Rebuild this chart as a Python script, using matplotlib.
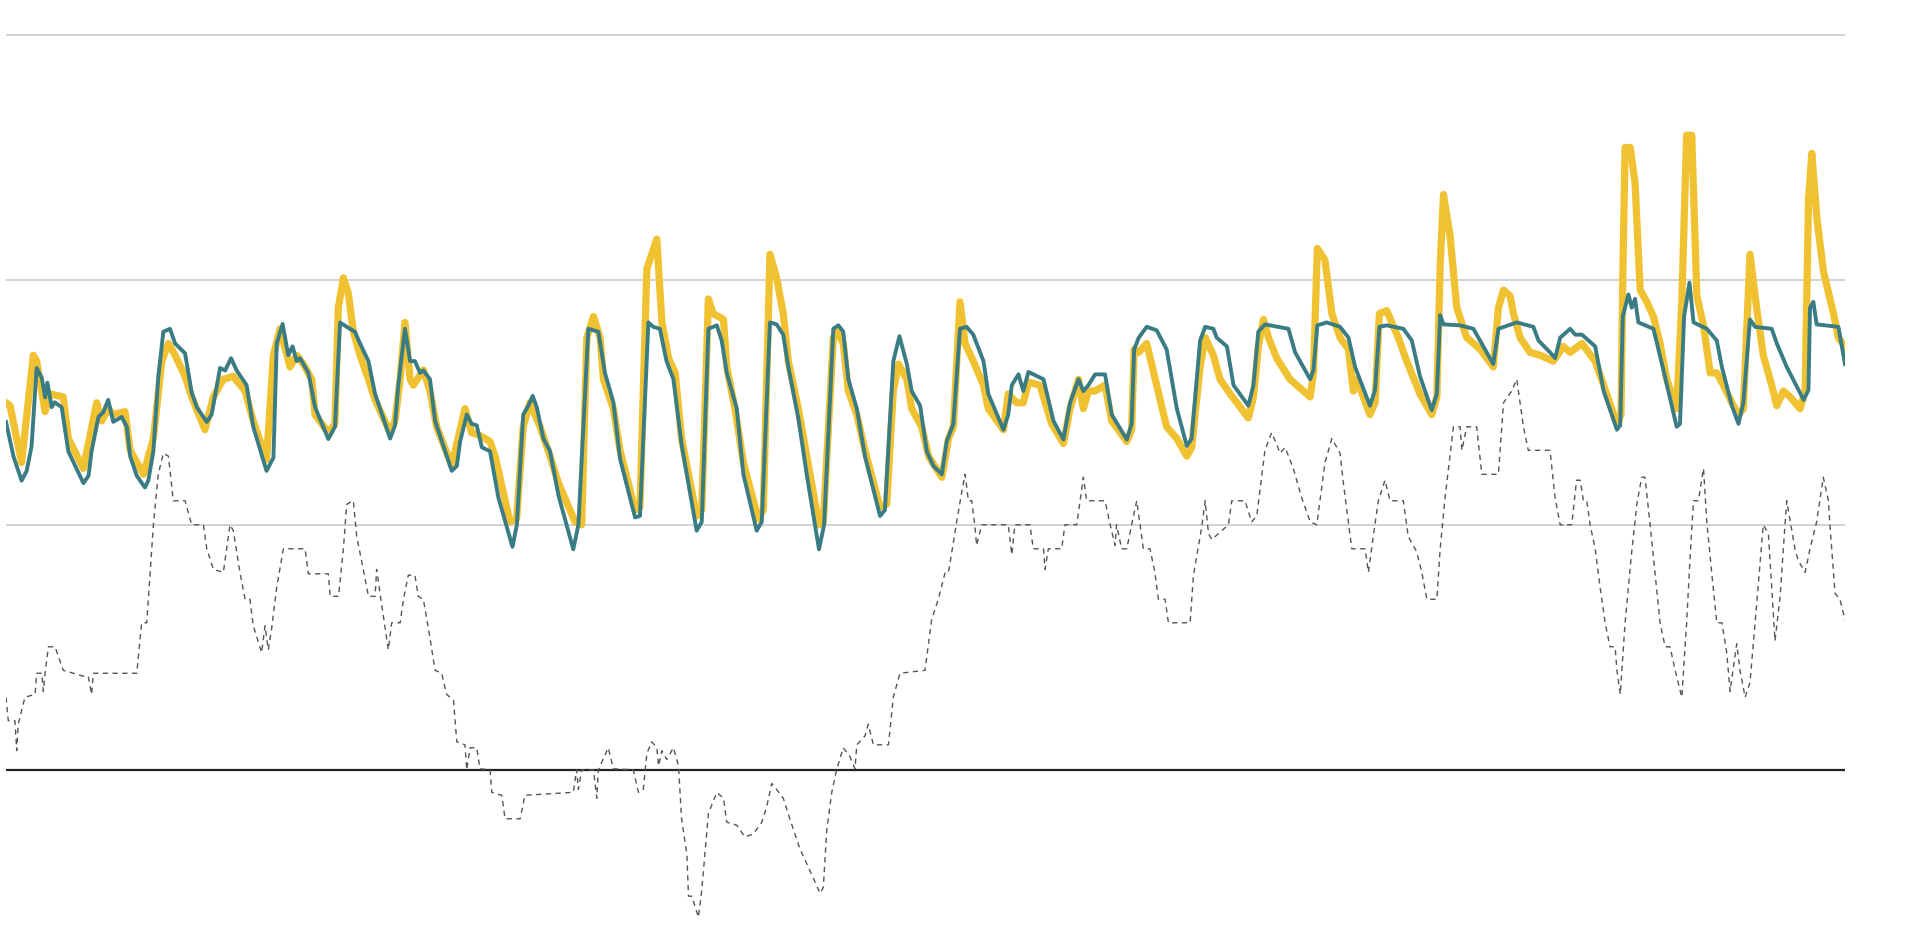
import matplotlib
matplotlib.use("Agg")
import matplotlib.pyplot as plt

# hourly series over 30 days (hour, value)
teal = [(0, 71), (2.9, 64), (6.1, 59), (8.1, 61), (10, 66), (12, 82), (14, 80), (15.3, 76), (16.2, 79),
        (17.9, 74), (19, 75), (21.8, 74), (24.4, 65), (30.3, 58.5), (32.3, 60), (33.5, 65), (36.2, 72),
        (38.1, 73), (40, 75.5), (42, 71), (45.3, 72), (47.3, 70), (48.6, 64), (51.2, 60), (54.4, 57.6),
        (55.7, 59), (57.7, 65), (59.6, 80), (61.6, 89.4), (64.2, 90), (66.2, 87), (70.1, 85), (72.7, 77),
        (74.7, 74), (78.6, 71), (80.5, 72.5), (83.8, 82), (85.8, 81.5), (88.1, 84), (90.3, 81.5),
        (94.2, 78.5), (96.8, 70), (102, 61), (104.7, 63.7), (106, 87), (108.3, 91), (110.5, 84.6),
        (112.2, 86.4), (113.8, 83.4), (115.1, 84), (118.4, 81), (121, 74), (126.2, 67.5), (128.8, 70),
        (130.8, 91.3), (133.4, 90.4), (136.6, 89.4), (138.6, 87), (141.9, 83.4), (144.5, 76.7),
        (150.4, 67.6), (152.3, 70.3), (153.6, 78.5), (156.2, 90), (158.2, 83.4), (160.1, 83.4),
        (162.1, 81), (163.4, 81.5), (166, 79.7), (168, 71.2), (174.5, 61), (176.5, 62), (177.8, 67),
        (180.4, 72.5), (182.3, 70.6), (184.3, 70.3), (186.3, 65.8), (189.5, 65), (192.8, 55.5),
        (198.3, 45.5), (200, 50), (202.5, 72.5), (204.5, 74.3), (206.2, 76.3), (207.8, 74), (210.4, 67.6),
        (213, 65), (216.3, 56), (222.1, 45), (224.1, 50), (228, 90), (231.9, 89.4), (234.5, 81),
        (237.8, 75), (240.4, 63.5), (246.3, 51.5), (248.2, 51.8), (251.5, 91.3), (253.4, 90.4), (256, 90),
        (258.6, 83.4), (261.3, 79.7), (264.5, 66.4), (270.4, 48.8), (272.4, 50.6), (275, 90),
        (278.3, 90.7), (280.2, 87.6), (282.2, 81), (286.1, 73.7), (288.7, 60.3), (293.9, 48.8),
        (295.9, 50.6), (299.1, 91.3), (301.7, 90.9), (304.3, 88.8), (306.3, 82.2), (310.2, 71.8),
        (313.5, 60.3), (318.3, 45), (320.3, 50), (323.9, 90), (325.9, 90.7), (327.8, 89.4), (329.8, 79.7),
        (333.1, 73.7), (336.3, 64), (342.2, 51.8), (344.1, 53), (347.4, 83.4), (349.8, 88.5),
        (352.7, 82.8), (354.6, 77.3), (357.9, 74.3), (360.5, 65), (363.1, 62), (366.4, 60.3), (368.3, 67),
        (370.9, 70.6), (373.5, 90), (376.1, 90.4), (378.7, 88.8), (382.7, 83.4), (384.6, 76.7),
        (390.5, 69.4), (392.4, 72.5), (393.8, 78.5), (396.4, 80.7), (398.3, 77.3), (400.3, 81.2),
        (406.2, 79.7), (410.1, 71.2), (414, 67.4), (416.6, 74.9), (419.9, 79.7), (421.8, 77.3),
        (423.8, 78.5), (426.4, 80.7), (430.3, 80.7), (432.9, 72.5), (438.8, 67.4), (440.7, 70.6),
        (441.7, 85.8), (443.5, 88.2), (446.6, 90.4), (450.5, 89.7), (454.4, 85.8), (458.4, 73.7),
        (462.3, 66.1), (464.2, 67.6), (467.5, 87.6), (469.5, 90.4), (472.7, 90), (474, 88.2), (478, 86.4),
        (480.6, 78.5), (486.4, 74.3), (488.4, 78.5), (490.3, 89.4), (492.9, 90.9), (502.1, 90),
        (504.7, 85.2), (510.6, 79.7), (511.9, 81.6), (513.4, 90.7), (517.1, 91.3), (522.3, 90.4),
        (525.6, 88.2), (528.2, 82.2), (534, 74.3), (536, 77.5), (537.7, 90.4), (540.6, 90.7), (547.1, 90),
        (550.4, 87.6), (553.6, 80.3), (558.2, 73.4), (560.2, 76.7), (561.5, 92.8), (562.8, 90.9),
        (569.3, 90.7), (574.5, 90), (582.3, 82.8), (584.3, 90), (591.5, 91.3), (598, 90.4), (600, 87.6),
        (604.5, 85.2), (606.5, 84), (608.5, 88.2), (612.4, 90), (614.4, 88.8), (617, 88.8), (622.2, 86.4),
        (625.5, 77.3), (630.7, 69.4), (632, 70.3), (633, 92.5), (635.2, 97), (636.5, 94.3), (637.8, 96.1),
        (639.1, 91.3), (645, 90), (648.9, 81.6), (654.1, 70), (655.4, 70.6), (657, 92.5), (659.1, 99.4),
        (660.7, 91.3), (665.9, 90), (669.8, 87.6), (671.8, 82.2), (675.7, 74.3), (678.3, 70.6),
        (680.2, 74.9), (682.8, 91.9), (684.8, 90.4), (691.3, 90), (693.3, 87), (697.2, 82.2),
        (703.8, 75.5), (705.7, 77.5), (706.3, 94.3), (707.6, 95.5), (708.9, 90.9), (717.4, 90.4),
        (720, 82.8)]

yellow = [(0, 74.9), (1.6, 74.3), (6.1, 62.7), (10.7, 84.6), (12, 83.4), (15.3, 73.1), (17.2, 76.7),
          (22.4, 76.1), (24.4, 67.6), (30.3, 61.5), (35.5, 74.9), (37.5, 71.2), (40, 73.7), (42, 72.5),
          (46.6, 73.1), (48.6, 65.2), (53.8, 60.3), (57.7, 67.6), (61, 83.4), (63.6, 87), (66.2, 84.6),
          (70.1, 80.3), (72.7, 76.1), (77.9, 69.4), (81.2, 76.1), (85.1, 79.7), (89, 80.3), (93.6, 77.3),
          (96.8, 71.2), (102, 63.3), (104.7, 84.6), (107.3, 90), (111.2, 82.2), (113.8, 84.6),
          (116.4, 82.8), (119.7, 79.7), (121, 72.5), (126.2, 68.8), (128.8, 70.6), (130.1, 94.3),
          (132.1, 100.4), (134, 97.3), (136, 89.4), (138.6, 84.6), (141.9, 79.7), (144.5, 75.5),
          (150.4, 68.8), (152.3, 71.2), (154.3, 79.7), (156.2, 91.3), (158.2, 79.7), (159.5, 78.5),
          (163.4, 81.6), (166, 77.3), (168.6, 70), (174.5, 62.1), (179.7, 73.7), (182.3, 68.8),
          (185.6, 68.2), (189.5, 67), (191.5, 64), (197.3, 50.6), (199.9, 51.2), (202.5, 70),
          (205.1, 74.9), (209.1, 70), (213, 64), (216.3, 58.5), (222.8, 50.6), (225.4, 50),
          (227.4, 88.2), (230, 92.5), (232.6, 88.2), (233.9, 79.7), (237.8, 73.7), (240.4, 65.2),
          (246.3, 53), (248.2, 53.6), (250.9, 102.2), (254.8, 108.3), (256.8, 91.3), (259.4, 84),
          (262, 81), (264.5, 67.6), (270.4, 51.8), (272.4, 53), (275, 96.1), (276.9, 93.1),
          (280.9, 91.9), (282.2, 82.2), (285.4, 73.7), (288.7, 62.7), (294.5, 51.2), (296.5, 53),
          (299.1, 105.2), (301.7, 100.4), (304.3, 93.1), (306.3, 83.4), (310.2, 73.7), (313.5, 64),
          (318.3, 50), (320, 50.6), (323.9, 88.2), (325.5, 89.4), (327.8, 87), (329.8, 77.3),
          (333.1, 72.5), (336.3, 65.2), (342.2, 53.6), (344.8, 54.2), (347.4, 77.3), (349.4, 82.8),
          (352.7, 79.7), (354.6, 73.7), (358.5, 70), (361.2, 64), (366.4, 59.7), (369, 67.6),
          (370.9, 70), (373.5, 95.5), (375.5, 87), (378.7, 83.4), (382.7, 78.5), (384.6, 73.7),
          (390.5, 69.4), (392.4, 76.7), (395.7, 74.9), (398.3, 74.9), (400.3, 79.1), (404.8, 78.5),
          (409.4, 70.6), (414, 66.6), (416.6, 73.7), (419.9, 79.7), (421.8, 73.7), (423.8, 77.3),
          (426.4, 77.3), (430.3, 78.5), (432.9, 71.2), (438.8, 67), (440.7, 69.4), (441.7, 85.8),
          (443.5, 85.2), (446.6, 87), (450.5, 78.5), (454.4, 70), (458.4, 67.6), (462.3, 64),
          (464.2, 65.8), (467.5, 82.2), (469.5, 88.2), (472.7, 84.6), (475.3, 79.7), (479.3, 76.7),
          (486.4, 71.8), (488.4, 76.1), (490.3, 86.4), (492.3, 91.9), (494.3, 88.2), (497.5, 84),
          (502.7, 79.7), (510.6, 76.1), (511.9, 81), (513.4, 106.4), (516.4, 104), (519.1, 93.1),
          (522.3, 88.2), (525.6, 85.8), (527.5, 77.3), (528.8, 79.7), (534, 72.5), (536, 74.9),
          (537.7, 93.1), (540.6, 93.7), (545.1, 88.2), (548.4, 83.4), (553.6, 76.7), (558.2, 72.5),
          (560.2, 76.1), (561.5, 102.8), (562.8, 117.4), (565.4, 108.9), (568, 94.3), (571.9, 88.2),
          (577.2, 85.8), (582.3, 82.2), (584.3, 94.3), (586.3, 97.9), (588.9, 96.7), (590.2, 93.1),
          (592.8, 88.2), (596.7, 85.2), (600.6, 84.6), (605.8, 83.4), (609.7, 86.4), (612.4, 85.2),
          (617, 87), (622.2, 83.4), (625.5, 78.5), (630.7, 70.6), (632.3, 72.5), (633, 100.4),
          (633.9, 127), (635.9, 127), (637.8, 119.8), (639.8, 97.9), (642.4, 95.5), (645, 92.5),
          (647.6, 87), (650.2, 79.7), (654.1, 73.7), (656.1, 95.5), (658, 129.5), (660, 129.5),
          (662, 96.7), (664.6, 90.7), (667.2, 81), (669.8, 81), (672.4, 78.5), (675.7, 74.9),
          (678.3, 72.5), (680.2, 73.7), (682.8, 105.2), (685.4, 94.3), (688, 84.6), (691.3, 78.5),
          (693.3, 74.3), (695.9, 77.3), (698.5, 76.1), (702.4, 73.7), (704.4, 77.3), (705.7, 116.1),
          (707, 125.8), (709, 112.5), (711.6, 101.6), (715.5, 93.1), (717.4, 88.2), (720, 86.4)]

difference = [(0, 14.8), (0.9, 10), (3.5, 10), (4.2, 3.9), (4.8, 9.3), (7.4, 14.8), (11.4, 15.4),
              (12, 19.7), (14, 19.7), (14.6, 16), (15.3, 19.7), (16.6, 25.1), (19.2, 25.1), (22.4, 20.3),
              (30.3, 19.1), (32.2, 19.1), (33.5, 15.4), (34.2, 19.7), (51.2, 19.7), (53.1, 30),
              (55.1, 30), (57.7, 50), (59.6, 60.3), (61.6, 64.6), (63.6, 64), (65.5, 54.9), (70.1, 54.9),
              (72.7, 50), (77.3, 50), (78.6, 45.1), (81.2, 40.9), (85.1, 40.3), (86.4, 45.1), (87.7, 50),
              (89, 48.8), (91.6, 40.3), (93.6, 34.8), (95.5, 34.8), (96.8, 29.4), (100.1, 23.9),
              (101.4, 29.4), (102.7, 24.5), (104, 28.8), (106, 37.3), (108.6, 45.1), (117.1, 45.1),
              (118.4, 40), (126.2, 40), (126.9, 35.4), (130.2, 35.4), (132.1, 45.1), (133.4, 54.2),
              (136, 54.9), (137.3, 47.6), (139.2, 42.7), (141.9, 35.4), (144.5, 35.4), (145.1, 40.9),
              (147.1, 33.6), (149.7, 24.5), (151, 30), (154.3, 30), (155.6, 34.8), (157.5, 39.7),
              (160.1, 39.7), (161.4, 35.4), (163.4, 34.8), (165.4, 28.8), (168, 20.3), (170.6, 19.7),
              (172.5, 15.4), (175.2, 14.2), (176.5, 5.7), (179.7, 5.1), (180.4, 0), (181.7, 4.5),
              (184.3, 4.5), (185.6, 0.2), (189.5, 0), (190.2, -4.6), (194.1, -5.2), (195.4, -10),
              (201.3, -10), (203.2, -5.2), (222.1, -4.6), (223.4, 0), (224.1, -4), (225.4, 0), (230, 0),
              (231.3, -5.8), (231.9, 0), (235.8, 4.5), (237.8, 0.2), (245.6, 0), (247.6, -4.6),
              (249.5, -4), (250.9, 3.3), (252.8, 5.7), (254.8, 4.5), (255.5, 0.8), (256.8, 3.9),
              (258.7, 2.1), (261.3, 4.5), (263.3, 0.8), (264.5, -10), (266.6, -17.4), (267.2, -25.8),
              (268.5, -25.8), (271.1, -30.1), (272.4, -24.6), (275, -8.9), (278.3, -4.6), (280.9, -5.8),
              (282.2, -10.7), (286.1, -11.3), (289.3, -13.7), (292.6, -13.1), (295.9, -10.7),
              (297.8, -7.6), (299.8, -2.8), (301.7, -4), (304.3, -5.8), (306.9, -10), (310.8, -16.1),
              (316.7, -22.8), (318.7, -25.2), (320, -24), (321.3, -12.5), (323.3, -4.6), (325.2, 0),
              (327.8, 4.5), (330.4, 2.7), (332.4, 0.2), (333.1, 5.1), (336.3, 6.9), (337.6, 9.3),
              (339.6, 5.1), (345.5, 5.1), (347.4, 14.8), (350, 19.7), (359.8, 20.3), (362.4, 30.6),
              (365, 34.8), (367.7, 40.3), (369, 40.3), (370.3, 44.5), (372.2, 50.6), (374.2, 56.7),
              (375.5, 60.3), (376.8, 54.9), (378.1, 54.9), (379.4, 49.4), (380, 45.8), (381.4, 48.8),
              (382, 50), (392.4, 50), (393.8, 43.9), (395, 50), (400.9, 50), (402.2, 45.1), (406.2, 45.1),
              (406.8, 40.9), (408.1, 45.1), (413.3, 45.1), (414.6, 50), (419.2, 50), (420.5, 54.9),
              (421.8, 59.7), (423.1, 54.9), (430.3, 54.9), (432.3, 50), (434.2, 45.8), (434.8, 50),
              (436.8, 45.1), (438.8, 45.1), (440.7, 50), (442.7, 54.9), (444, 50), (445.3, 45.1),
              (447.9, 45.1), (449.8, 40.3), (451.2, 34.8), (453.8, 34.8), (455.1, 30), (463.6, 30),
              (464.9, 39.7), (468.1, 49.4), (469.5, 54.9), (470.8, 48.2), (472.1, 47), (478.6, 50),
              (479.9, 54.9), (485.1, 54.9), (487.7, 50.6), (489.7, 51.8), (492.9, 65.2), (495.5, 68.8),
              (497.5, 66.4), (498.8, 64.6), (500.8, 65.8), (504, 61.5), (507.3, 55.5), (510.6, 50.6),
              (513.2, 50), (516.4, 62.7), (519.1, 67.6), (522.3, 64.6), (523.6, 58.5), (526.9, 45.1),
              (532.1, 45.1), (533.4, 40.3), (535.3, 47.6), (537.3, 54.9), (539.9, 59.1), (541.9, 54.9),
              (547.1, 54.9), (549, 47.6), (552.3, 44.5), (554.3, 40.3), (556.3, 34.8), (560.2, 34.8),
              (561.5, 45.1), (563.4, 55.5), (566.7, 70), (569.3, 70), (570, 65.2), (571.9, 70),
              (575.8, 70), (577.8, 60.3), (584.3, 60.3), (586.3, 74.9), (589.5, 77.3), (591.5, 79.7),
              (592.8, 74.9), (594.1, 70), (596, 65.2), (604.5, 65.2), (606.5, 55.5), (608.5, 50),
              (613, 50), (614.9, 59.1), (616.3, 59.1), (617.6, 54.9), (618.9, 54.9), (620.2, 50),
              (622.2, 45.1), (624.1, 37.3), (626.1, 30), (628, 25.1), (630, 25.1), (630.7, 20.3),
              (632, 15.4), (633.9, 30), (636.5, 44.5), (638.5, 54.2), (640.4, 59.7), (641.7, 59.7),
              (643.7, 50), (645.6, 40.3), (647.6, 30), (649.6, 25.1), (651.5, 25.1), (653.5, 20.3),
              (656.1, 14.8), (658, 30), (659.4, 43.9), (660.7, 54.9), (662.6, 54.9), (664.6, 61.5),
              (665.9, 50.6), (667.8, 40.3), (669.8, 30), (671.8, 30), (673.7, 23.9), (675, 16),
              (677.6, 25.7), (678.9, 20.3), (680.9, 14.8), (682.8, 17.8), (684.8, 30), (688, 50),
              (690, 48.2), (691.3, 37.3), (692.6, 26.3), (694.6, 35.4), (696.5, 50), (697.2, 54.9),
              (700.4, 45.1), (701.7, 42.7), (704.4, 40.3), (706.3, 45.1), (708.9, 50.6), (711.5, 59.7),
              (713.5, 54.9), (714.1, 50), (716.1, 36), (718, 34.8), (720, 30.6)]

grid_values = [50, 100, 150]

YELLOW = '#F0C232'
TEAL = '#3A7C83'

fig = plt.figure(figsize=(19.10, 9.31), dpi=100)
ax = fig.add_axes([6 / 1910, 0, 1839 / 1910, 1])

for g in grid_values:
    ax.axhline(g, color='#c6c6c6', lw=1.1, zorder=1)
ax.axhline(0, color='#222222', lw=1.6, zorder=2)

h, v = zip(*difference)
ax.plot(h, v, color='#555555', lw=1.0, dashes=(3.8, 3.2), zorder=3)
h, v = zip(*yellow)
ax.plot(h, v, color=YELLOW, lw=5.2, zorder=4)
h, v = zip(*teal)
ax.plot(h, v, color=TEAL, lw=2.8, zorder=5)

ax.set_xlim(0, 720)
ax.set_ylim(-32.9, 157.1)
ax.axis('off')

fig.savefig('out.png', dpi=100, facecolor='white')
